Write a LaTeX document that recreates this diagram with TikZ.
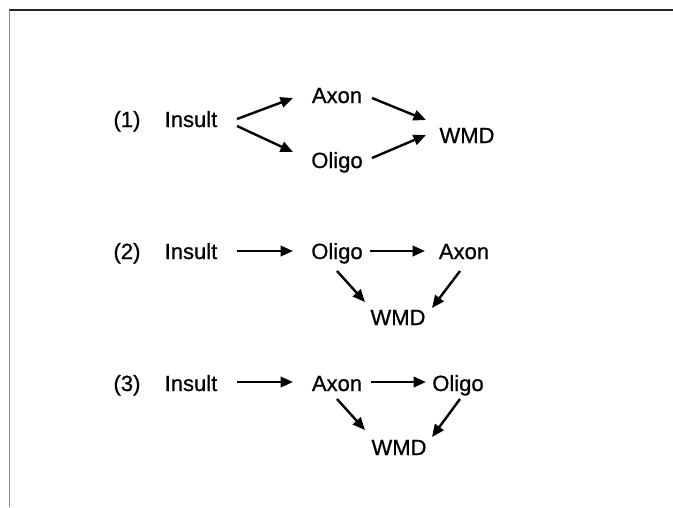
\documentclass[tikz,border=0pt]{standalone}
\usepackage{fontspec}
\setmainfont{Liberation Sans}
\usetikzlibrary{arrows.meta}
\begin{document}
\begin{tikzpicture}[x=1pt,y=-1pt,
  lbl/.style={inner sep=0pt,anchor=base,font=\fontsize{22}{26}\selectfont\addfontfeature{FakeBold=0.8}},
  arr/.style={line width=2.4pt,-{Triangle[length=12.5pt,width=10.5pt]}}]
\useasboundingbox (0,0) rectangle (673,507);
% frame edges
\draw[line width=1.5pt,black!85] (9,10) -- (673,10);
\draw[line width=1.5pt,black!45] (9.5,10) -- (9.5,507);

% (1) parallel pathways
\node[lbl] (n1) at (127,127) {(1)};
\node[lbl] (i1) at (191,127) {Insult};
\node[lbl] (a1) at (337,103) {Axon};
\node[lbl] (o1) at (337,168) {Oligo};
\node[lbl] (w1) at (467,143) {WMD};
\draw[arr] ([shift={(46,-8)}]i1.base) -- ([shift={(-44,-5)}]a1.base);
\draw[arr] ([shift={(46,-1)}]i1.base) -- ([shift={(-44,-16)}]o1.base);
\draw[arr] ([shift={(35,-5)}]a1.base) -- ([shift={(-41,-23)}]w1.base);
\draw[arr] ([shift={(35,-10)}]o1.base) -- ([shift={(-41,-8)}]w1.base);

% (2) oligodendrocyte first
\node[lbl] (n2) at (127,259) {(2)};
\node[lbl] (i2) at (191,259) {Insult};
\node[lbl] (o2) at (337,259) {Oligo};
\node[lbl] (a2) at (464,259) {Axon};
\node[lbl] (w2) at (398,325) {WMD};
\draw[arr] ([shift={(46,-8)}]i2.base) -- ([shift={(-44,-8)}]o2.base);
\draw[arr] ([shift={(33,-8)}]o2.base) -- ([shift={(-39,-8)}]a2.base);
\draw[arr] ([shift={(0,12)}]o2.base) -- ([shift={(-33,-23)}]w2.base);
\draw[arr] ([shift={(-4,12)}]a2.base) -- ([shift={(34,-17)}]w2.base);

% (3) axon first
\node[lbl] (n3) at (127,391) {(3)};
\node[lbl] (i3) at (191,391) {Insult};
\node[lbl] (a3) at (337,391) {Axon};
\node[lbl] (o3) at (458,391) {Oligo};
\node[lbl] (w3) at (399,455) {WMD};
\draw[arr] ([shift={(46,-9)}]i3.base) -- ([shift={(-44,-9)}]a3.base);
\draw[arr] ([shift={(34,-9)}]a3.base) -- ([shift={(-32,-9)}]o3.base);
\draw[arr] ([shift={(0,8)}]a3.base) -- ([shift={(-34,-25)}]w3.base);
\draw[arr] ([shift={(2,8)}]o3.base) -- ([shift={(33,-18)}]w3.base);
\end{tikzpicture}
\end{document}
